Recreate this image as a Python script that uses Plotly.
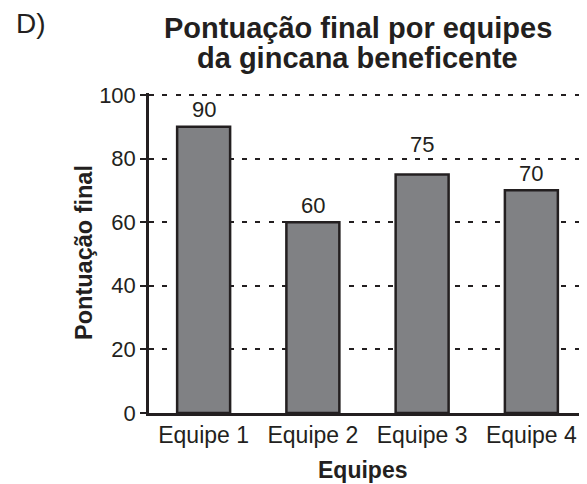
import plotly.graph_objects as go

categories = ["Equipe 1", "Equipe 2", "Equipe 3", "Equipe 4"]
values = [90, 60, 75, 70]
y_ticks = [0, 20, 40, 60, 80, 100]

FONT = "Liberation Sans, Arial, sans-serif"
INK = "#231f20"

# the page body adds an 8px margin, so the figure is sized/positioned to compensate
OFF = 8
W, H = 587 - OFF, 484 - OFF
L, R, T, B = 149 - OFF, 1, 93 - OFF, 71
PW, PH = W - L - R, H - T - B
BOTTOM = H - B

# label lifted clear of the dashed gridline (as in the reference)
LABEL_SHIFT = {"Equipe 3": 30}


def px_x(x):
    return (x - OFF - L) / PW


def px_y(y):
    return (BOTTOM - (y - OFF)) / PH


fig = go.Figure(
    go.Bar(
        x=categories,
        y=values,
        marker=dict(color="#808184", line=dict(color=INK, width=2.5)),
        cliponaxis=False,
        hoverinfo="x+y",
    )
)

annotations = []
# value labels above bars
for c, v in zip(categories, values):
    annotations.append(dict(
        x=c, y=v, xref="x", yref="y", text=str(v), showarrow=False,
        yanchor="middle", yshift=LABEL_SHIFT.get(c, 17),
        font=dict(family=FONT, size=22, color=INK),
    ))
# title (two lines)
annotations.append(dict(
    text="<b>Pontuação final por equipes</b>", x=px_x(357.5), y=px_y(28),
    xref="paper", yref="paper", xanchor="center", yanchor="middle", showarrow=False,
    font=dict(family=FONT, size=29, color=INK),
))
annotations.append(dict(
    text="<b>da gincana beneficente</b>", x=px_x(357.5), y=px_y(58),
    xref="paper", yref="paper", xanchor="center", yanchor="middle", showarrow=False,
    font=dict(family=FONT, size=29, color=INK),
))
# D)
annotations.append(dict(
    text="D)", x=px_x(14), y=px_y(23),
    xref="paper", yref="paper", xanchor="left", yanchor="middle", showarrow=False,
    font=dict(family=FONT, size=28, color=INK),
))
# axis titles
annotations.append(dict(
    text="<b>Equipes</b>", x=px_x(362.5), y=px_y(470),
    xref="paper", yref="paper", xanchor="center", yanchor="middle", showarrow=False,
    font=dict(family=FONT, size=23, color=INK),
))
annotations.append(dict(
    text="<b>Pontuação final</b>", x=px_x(84), y=px_y(253), textangle=-90,
    xref="paper", yref="paper", xanchor="center", yanchor="middle", showarrow=False,
    font=dict(family=FONT, size=23.5, color=INK),
))

fig.update_layout(
    width=W,
    height=H,
    margin=dict(l=L, r=R, t=T, b=B),
    paper_bgcolor="white",
    plot_bgcolor="white",
    bargap=0.515,
    showlegend=False,
    font=dict(family=FONT, color=INK),
    annotations=annotations,
)

fig.update_yaxes(
    range=[0, 100.6],
    tickvals=y_ticks,
    ticks="outside",
    ticklen=6,
    tickwidth=2,
    tickcolor=INK,
    showline=True,
    linecolor=INK,
    linewidth=2.5,
    showgrid=True,
    gridcolor=INK,
    gridwidth=2,
    griddash="5px,8.3px",
    zeroline=False,
    tickfont=dict(family=FONT, size=22, color=INK),
)
fig.update_xaxes(
    showline=True,
    linecolor=INK,
    linewidth=2.5,
    ticks="",
    tickfont=dict(family=FONT, size=23, color=INK),
)

fig.write_html("out.html")
